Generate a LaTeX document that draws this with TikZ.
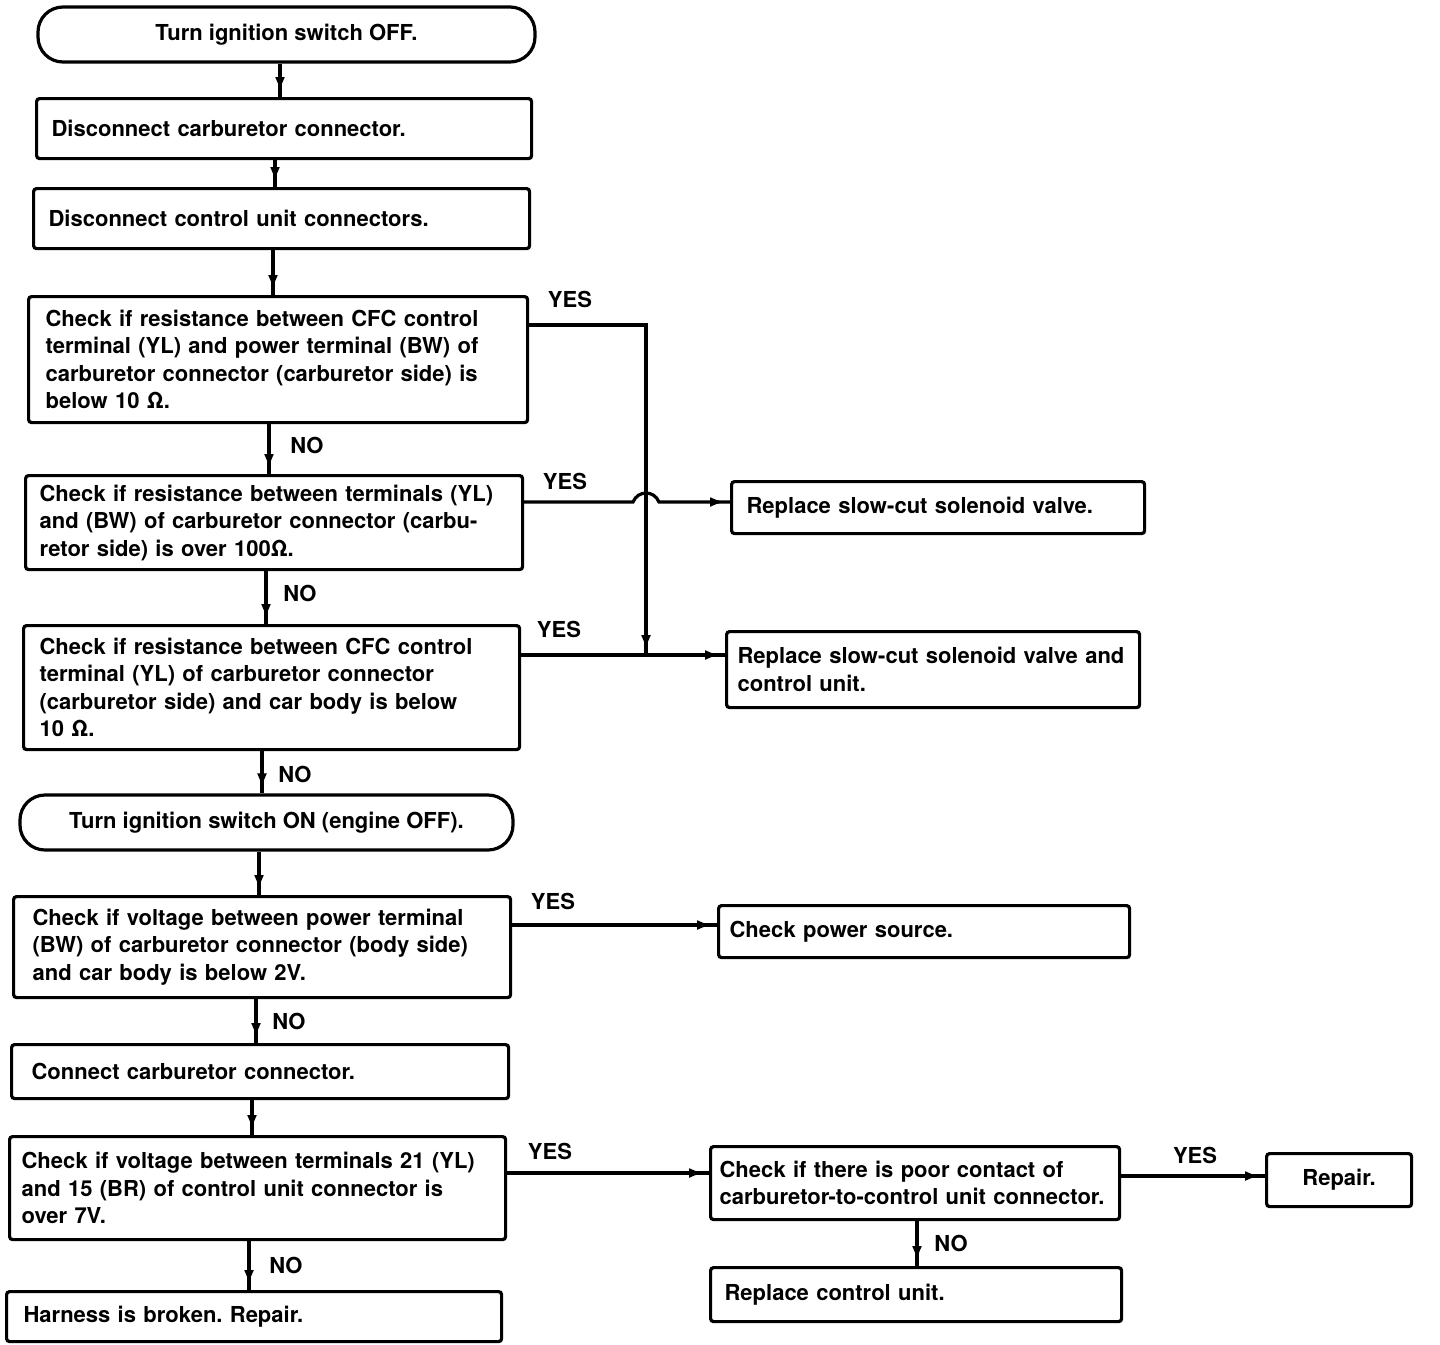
\documentclass[tikz,border=0pt]{standalone}
\usepackage{fontspec}
\setmainfont{TeX Gyre Heros}
\usetikzlibrary{arrows.meta,decorations.markings}
\frenchspacing
\tikzset{
  box/.style={draw, line width=3.2pt, rounded corners=3pt, anchor=north west, align=left, inner xsep=15pt, inner ysep=2pt},
  term/.style={draw, line width=3.2pt, rounded corners=25pt, align=center, inner sep=0pt},
  conn/.style={line width=3.2pt, postaction={decorate},
    decoration={markings, mark=at position -5pt with {\arrow{Latex[length=15pt,width=10pt]}}}},
  lbl/.style={inner sep=0pt}
}
\begin{document}
\begin{tikzpicture}[x=1pt,y=-1pt, font=\fontsize{22}{27.5}\selectfont\bfseries]
\useasboundingbox (0,0) rectangle (1440,1344);
% left column
\node[term, minimum width=497pt, minimum height=55pt] (t1) at (286.5,34.5) {Turn ignition switch OFF.};
\node[box, text width=465pt, minimum height=60pt] (b2) at (35,97) {Disconnect carburetor connector.};
\node[box, text width=466pt, minimum height=60pt] (b3) at (32,187) {Disconnect control unit connectors.};
\node[box, inner xsep=17pt, text width=465pt, minimum height=126pt] (b4) at (27,295) {Check if resistance between CFC control\\terminal (YL) and power terminal (BW) of\\carburetor connector (carburetor side) is\\below 10 Ω.};
\node[box, inner xsep=14pt, text width=469pt, minimum height=94pt] (b5) at (24,474) {Check if resistance between terminals (YL)\\and (BW) of carburetor connector (carbu-\\retor side) is over 100Ω.};
\node[box, inner xsep=16pt, text width=464pt, minimum height=124pt] (b6) at (22,624) {Check if resistance between CFC control\\terminal (YL) of carburetor connector\\(carburetor side) and car body is below\\10 Ω.};
\node[term, minimum width=493pt, minimum height=55pt] (t2) at (266.5,822.5) {Turn ignition switch ON (engine OFF).};
\node[box, inner xsep=19pt, text width=459pt, minimum height=101pt] (b8) at (12,895) {Check if voltage between power terminal\\(BW) of carburetor connector (body side)\\and car body is below 2V.};
\node[box, inner xsep=20pt, text width=457pt, minimum height=54pt] (b9) at (10,1043) {Connect carburetor connector.};
\node[box, inner xsep=12pt, text width=472pt, minimum height=103pt] (b10) at (8,1135) {Check if voltage between terminals 21 (YL)\\and 15 (BR) of control unit connector is\\over 7V.};
\node[box, inner xsep=17pt, text width=461pt, minimum height=50pt] (b11) at (5,1290) {Harness is broken. Repair.};
% right column
\node[box, text width=383pt, minimum height=52pt] (r1) at (730,480) {Replace slow-cut solenoid valve.};
\node[box, inner xsep=11pt, text width=391pt, minimum height=76pt] (r2) at (725,630) {Replace slow-cut solenoid valve and\\control unit.};
\node[box, inner xsep=11pt, text width=389pt, minimum height=52pt] (r3) at (717,904) {Check power source.};
\node[box, inner xsep=9pt, text width=391pt, minimum height=73pt] (r4) at (709,1145) {Check if there is poor contact of\\carburetor-to-control unit connector.};
\node[box, inner xsep=0pt, text width=145pt, align=center, minimum height=53pt] (r5) at (1265,1152) {Repair.};
\node[box, inner xsep=14pt, text width=383pt, minimum height=54pt] (r6) at (709,1266) {Replace control unit.};
% main chain
\draw[conn] (280,0 |- t1.south) -- (280,0 |- b2.north);
\draw[conn] (275,0 |- b2.south) -- (275,0 |- b3.north);
\draw[conn] (273,0 |- b3.south) -- (273,0 |- b4.north);
\draw[conn] (269,0 |- b4.south) -- (269,0 |- b5.north);
\draw[conn] (266,0 |- b5.south) -- (266,0 |- b6.north);
\draw[conn] (262,0 |- b6.south) -- (262,0 |- t2.north);
\draw[conn] (259,0 |- t2.south) -- (259,0 |- b8.north);
\draw[conn] (256,0 |- b8.south) -- (256,0 |- b9.north);
\draw[conn] (252,0 |- b9.south) -- (252,0 |- b10.north);
\draw[conn] (249,0 |- b10.south) -- (249,0 |- b11.north);
% branches
\coordinate (j) at (646,655);
\draw[conn] ([yshift=-30pt]b4.north east) -- (646,325) -- (j);
\draw[conn] (b5.east |- 0,502) -- (633,502) .. controls (638,490) and (654,490) .. (659,502) -- (r1.west |- 0,502);
\draw[conn] (b6.east |- j) -- (r2.west |- j);
\draw[conn] (b8.east |- 0,925) -- (r3.west |- 0,925);
\draw[conn] (b10.east |- 0,1173) -- (r4.west |- 0,1173);
\draw[conn] (r4.east |- 0,1176) -- (r5.west |- 0,1176);
\draw[conn] (917,0 |- r4.south) -- (917,0 |- r6.north);
% labels
\node[lbl] (y4) at (570,299) {YES};
\node[lbl] (n4) at (307,445) {NO};
\node[lbl] (y5) at (565,481) {YES};
\node[lbl] (n5) at (300,593) {NO};
\node[lbl] (y6) at (559,629) {YES};
\node[lbl] (n6) at (295,774) {NO};
\node[lbl] (y8) at (553,901) {YES};
\node[lbl] (n8) at (289,1021) {NO};
\node[lbl] (y10) at (550,1151) {YES};
\node[lbl] (n10) at (286,1265) {NO};
\node[lbl] (yr4) at (1195,1155) {YES};
\node[lbl] (nr4) at (951,1243) {NO};
\end{tikzpicture}
\end{document}
